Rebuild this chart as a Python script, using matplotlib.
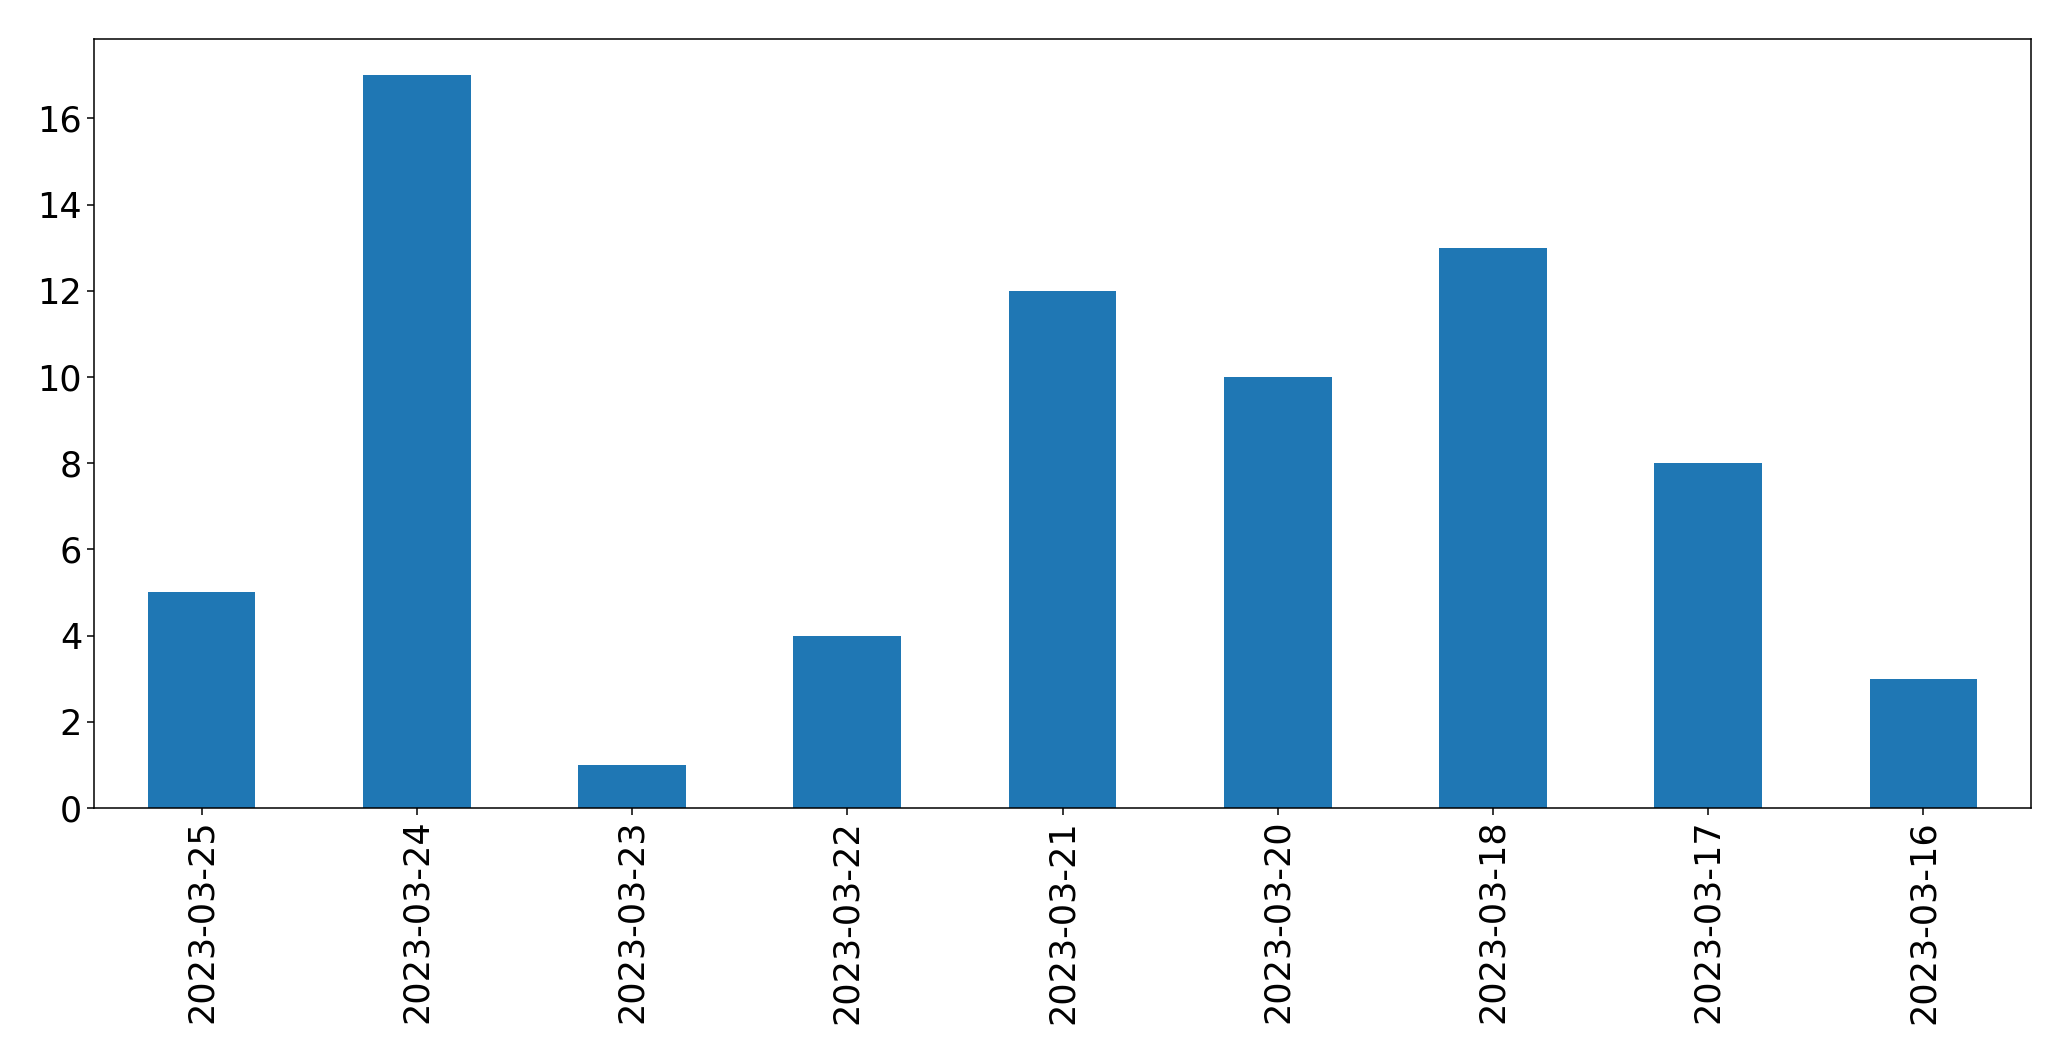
import matplotlib
matplotlib.use('Agg')
import matplotlib.pyplot as plt
import numpy as np

# dane
dates = ['2023-03-25', '2023-03-24', '2023-03-23', '2023-03-22', '2023-03-21',
         '2023-03-20', '2023-03-18', '2023-03-17', '2023-03-16']
counts = [5, 17, 1, 4, 12, 10, 13, 8, 3]

fig = plt.figure(figsize=(20.71, 10.61), dpi=100)
ax = fig.add_axes([0.0454, 0.2385, 0.9353, 0.7250])

x = np.arange(len(dates))
ax.bar(x, counts, width=0.5, color='#1f77b4')
ax.set_xlim(-0.5, len(dates) - 0.5)
ax.set_xticks(x)
ax.set_xticklabels(dates, rotation=90)
ax.tick_params(labelsize=25.2, length=5, width=1.1)
for s in ax.spines.values():
    s.set_linewidth(1.1)

fig.savefig('out.png', dpi=100)
